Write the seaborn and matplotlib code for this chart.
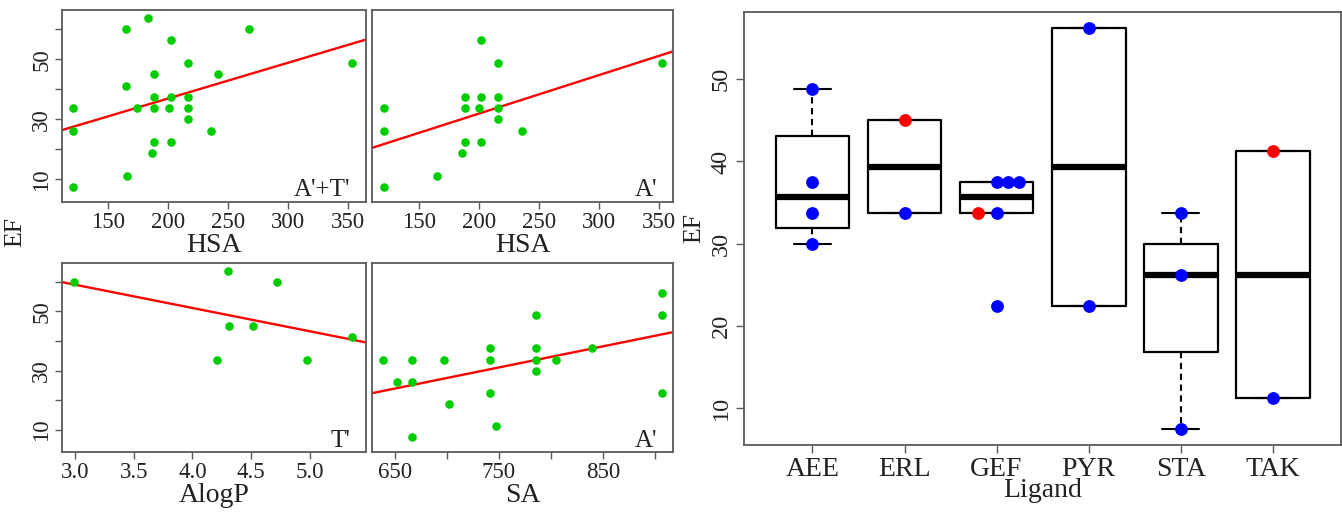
import numpy as np
import matplotlib
matplotlib.use("Agg")
import matplotlib.pyplot as plt
import seaborn as sns

sns.set_style("white")
plt.rcParams['font.family'] = ['Liberation Serif', 'DejaVu Serif']

# ---------------- data ----------------
# panel 1: A'+T' (HSA vs EF)
hsa_all = [121, 121, 121, 165, 183.6, 165, 165.8, 174.4, 188.6, 188.6, 188.6, 188.6, 187,
           202.5, 202.5, 201.4, 202.5, 217, 217, 217, 217, 236, 241.7, 267.8, 353]
ef_all = [33.75, 26.25, 7.5, 60, 63.75, 41.25, 11.25, 33.75, 45, 37.5, 33.75, 22.5, 18.75,
          56.25, 37.5, 33.75, 22.5, 48.75, 37.5, 33.75, 30, 26.25, 45, 60, 48.75]
# panel 2: A' (HSA vs EF)
hsa_a = [121, 121, 121, 165.3, 186.4, 188.3, 188.3, 188.3, 202, 202, 200.5, 202,
         216.4, 216.4, 216.4, 216.4, 235.8, 353]
ef_hsa_a = [33.75, 26.25, 7.5, 11.25, 18.75, 37.5, 33.75, 22.5, 56.25, 37.5, 33.75, 22.5,
            48.75, 37.5, 33.75, 30, 26.25, 48.75]
# panel 3: T' (AlogP vs EF)
alogp_t = [2.99, 4.30, 4.72, 4.31, 4.52, 5.36, 4.21, 4.98]
ef_t = [60, 63.75, 60, 45, 45, 41.25, 33.75, 33.75]
# panel 4: A' (SA vs EF)
sa_a = [637.8, 651.6, 665.7, 665.7, 665.7, 696.8, 701.9, 741.7, 741.7, 741.7, 747.4,
        785.3, 785.3, 785.3, 785.3, 804.5, 840, 906.7, 906.7, 906.7]
ef_sa_a = [33.75, 26.25, 33.75, 26.25, 7.5, 33.75, 18.75, 37.5, 33.75, 22.5, 11.25,
           48.75, 37.5, 33.75, 30, 33.75, 37.5, 56.25, 48.75, 22.5]

# boxplot panel
ligands = ["AEE", "ERL", "GEF", "PYR", "STA", "TAK"]
ef_blue = [[48.75, 37.5, 33.75, 30.0], [33.75], [37.5, 37.5, 37.5, 33.75, 22.5],
           [56.25, 22.5], [33.75, 26.25, 7.5], [11.25]]
ef_red = [[], [45.0], [33.75], [], [], [41.25]]

# ---------------- layout ----------------
W, H = 1342, 512
fig = plt.figure(figsize=(W / 100, H / 100), dpi=100)


def px_axes(x0, y0, x1, y1):
    return fig.add_axes([x0 / W, 1 - y1 / H, (x1 - x0) / W, (y1 - y0) / H])


GREEN = '#00CD00'
FRAME = '#5a5a5a'
TXT = '#222222'
TICKFS = 16.5
LABFS = 20
PANFS = 18


def style(ax, show_y):
    for s in ax.spines.values():
        s.set_visible(True)
        s.set_color(FRAME)
        s.set_linewidth(1.3)
    ax.tick_params(axis='both', direction='out', length=5, width=1.0, color=FRAME,
                   labelsize=TICKFS, pad=2, labelcolor=TXT, bottom=True, left=True)
    ax.set_yticks([10, 20, 30, 40, 50, 60])
    if show_y:
        ax.set_yticklabels(['10', '', '30', '', '50', ''])
        for lab in ax.get_yticklabels():
            lab.set_rotation(90)
            lab.set_va('center')
    else:
        ax.tick_params(axis='y', left=False, labelleft=False)
    ax.set_ylim(2.5, 66.4)


def panel(ax, x, y, xlim, xticks, xticklabels, xlabel, tag, show_y):
    ax.set_xlim(*xlim)
    sns.regplot(x=np.array(x), y=np.array(y), ax=ax, ci=None, truncate=False,
                scatter_kws=dict(color=GREEN, s=38, linewidths=0, alpha=1, zorder=3),
                line_kws=dict(color='red', lw=1.7, zorder=2))
    ax.set_xlim(*xlim)
    style(ax, show_y)
    ax.set_xticks(xticks)
    ax.set_xticklabels(xticklabels)
    ax.set_xlabel(xlabel, fontsize=LABFS, labelpad=0, color=TXT)
    ax.set_ylabel('')
    ax.annotate(tag, xy=(1, 0), xycoords='axes fraction', xytext=(-11, 4),
                textcoords='offset points', ha='right', va='baseline', fontsize=PANFS,
                color=TXT)


ax1 = px_axes(62, 10, 366, 202)
panel(ax1, hsa_all, ef_all, (112, 365), [150, 200, 250, 300, 350],
      ['150', '200', '250', '300', '350'], 'HSA', "A'+T'", True)
ax2 = px_axes(372, 10, 673, 202)
panel(ax2, hsa_a, ef_hsa_a, (111.2, 362), [150, 200, 250, 300, 350],
      ['150', '200', '250', '300', '350'], 'HSA', "A'", False)
ax3 = px_axes(62, 262.7, 366, 452.3)
panel(ax3, alogp_t, ef_t, (2.887, 5.48), [3.0, 3.5, 4.0, 4.5, 5.0],
      ['3.0', '3.5', '4.0', '4.5', '5.0'], 'AlogP', "T'", True)
ax4 = px_axes(372, 262.7, 673, 452.3)
panel(ax4, sa_a, ef_sa_a, (627.6, 917.6), [650, 700, 750, 800, 850, 900],
      ['650', '', '750', '', '850', ''], 'SA', "A'", False)

fig.text(15 / W, 1 - 232 / H, 'EF', rotation=90, ha='center', va='center',
         fontsize=18.5, color=TXT)


# ---------------- boxplot ----------------
def fivenum(v):
    v = np.sort(np.asarray(v, float))
    n = len(v)
    n4 = np.floor((n + 3) / 2) / 2
    d = np.array([1, n4, (n + 1) / 2, n + 1 - n4, n])
    return 0.5 * (v[np.floor(d - 1).astype(int)] + v[np.ceil(d - 1).astype(int)])


stats = []
for b, r in zip(ef_blue, ef_red):
    allv = np.array(b + r, float)
    mn, lo, med, hi, mx = fivenum(allv)
    iqr = hi - lo
    inside = allv[(allv >= lo - 1.5 * iqr) & (allv <= hi + 1.5 * iqr)]
    stats.append(dict(med=med, q1=lo, q3=hi, whislo=inside.min(), whishi=inside.max(),
                      fliers=[]))

axb = px_axes(744.3, 11.7, 1341, 445)
axb.bxp(stats, positions=range(len(ligands)), widths=0.8, showfliers=False,
        manage_ticks=False, capwidths=0.4,
        boxprops=dict(color='black', lw=1.6),
        medianprops=dict(color='black', lw=4.5, solid_capstyle='butt'),
        whiskerprops=dict(color='black', lw=1.5, linestyle=(0, (3, 2.2))),
        capprops=dict(color='black', lw=1.5))

# stacked point positions (like R stripchart method="stack")
bx, by, rx, ry = [], [], [], []
STEP = 0.12
for i, (b, r) in enumerate(zip(ef_blue, ef_red)):
    seen = {}
    for v in b:
        k = seen.get(v, 0)
        bx.append(i + k * STEP)
        by.append(v)
        seen[v] = k + 1
    for v in r:
        off = -0.2 if v in seen else 0.0
        rx.append(i + off)
        ry.append(v)

sns.scatterplot(x=bx, y=by, ax=axb, color='#0000FF', s=85, linewidth=0, zorder=5)
sns.scatterplot(x=rx, y=ry, ax=axb, color='#FF0000', s=85, linewidth=0, zorder=5)

axb.set_xlim(-0.74, 5.74)
axb.set_ylim(5.55, 58.2)
for s in axb.spines.values():
    s.set_visible(True)
    s.set_color(FRAME)
    s.set_linewidth(1.3)
axb.set_xticks(range(len(ligands)))
axb.set_xticklabels(ligands)
axb.set_yticks([10, 20, 30, 40, 50])
axb.tick_params(axis='both', direction='out', length=6, width=1.0, color=FRAME,
                labelcolor=TXT, pad=3, bottom=True, left=True)
axb.tick_params(axis='x', labelsize=20)
axb.tick_params(axis='y', labelsize=17.5)
for lab in axb.get_yticklabels():
    lab.set_rotation(90)
    lab.set_va('center')
axb.set_xlabel('Ligand', fontsize=20, labelpad=-3, color=TXT)
axb.set_ylabel('EF', fontsize=18.5, labelpad=4, color=TXT)

fig.savefig('out.png', dpi=100)
